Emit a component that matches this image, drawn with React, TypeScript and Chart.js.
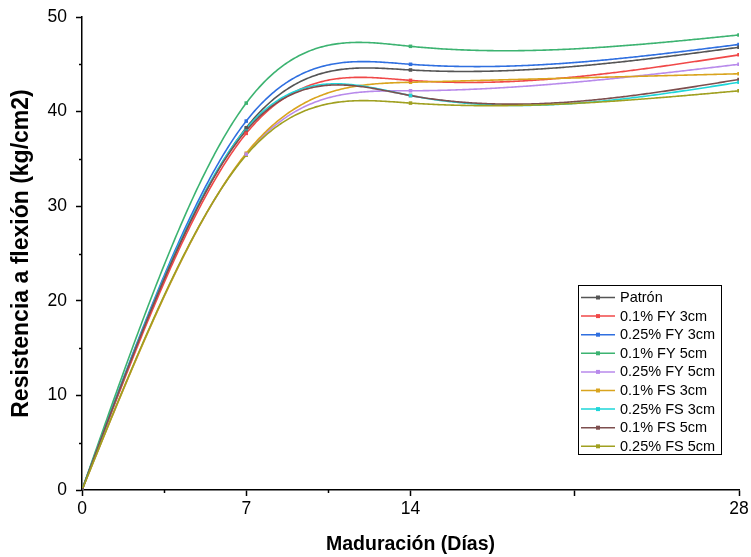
import { useEffect, useRef } from 'react';
import { Chart, registerables } from 'chart.js';

Chart.register(...registerables);

const days = [0, 7, 14, 28];
const seriesNames = [
  'Patrón',
  '0.1% FY 3cm',
  '0.25% FY 3cm',
  '0.1% FY 5cm',
  '0.25% FY 5cm',
  '0.1% FS 3cm',
  '0.25% FS 3cm',
  '0.1% FS 5cm',
  '0.25% FS 5cm',
];
const patron = [0, 38.3, 44.4, 46.8];
const fy01_3 = [0, 37.7, 43.3, 46.0];
const fy025_3 = [0, 39.0, 45.0, 47.1];
const fy01_5 = [0, 40.9, 46.9, 48.1];
const fy025_5 = [0, 35.5, 42.2, 45.0];
const fs01_3 = [0, 35.6, 43.1, 44.0];
const fs025_3 = [0, 38.2, 41.7, 43.1];
const fs01_5 = [0, 38.0, 41.7, 43.4];
const fs025_5 = [0, 35.4, 40.9, 42.2];
const seriesValues = [patron, fy01_3, fy025_3, fy01_5, fy025_5, fs01_3, fs025_3, fs01_5, fs025_5];
const seriesColors = [
  '#555555',
  '#F04848',
  '#2F6FE0',
  '#3CB371',
  '#B88AEB',
  '#D9A41E',
  '#1ED6D9',
  '#7D4E4E',
  '#A0A020',
];
const xTickValues = [0, 3.5, 7, 10.5, 14, 21, 28];
const xTickLabels = ['0', '', '7', '', '14', '', '28'];
const xMinorTicks = [3.5, 10.5];
const yMinorTicks = [5, 15, 25, 35, 45];
const xTitle = 'Maduración (Días)';
const yTitle = 'Resistencia a flexión (kg/cm2)';

const FONT = "'Liberation Sans', Arial, sans-serif";

function naturalSpline(xs: number[], ys: number[]) {
  const n = xs.length;
  const h: number[] = [];
  for (let i = 0; i < n - 1; i++) h.push(xs[i + 1] - xs[i]);
  const M = new Array(n).fill(0);
  const m = n - 2;
  if (m > 0) {
    const a: number[] = [], b: number[] = [], c: number[] = [], d: number[] = [];
    for (let i = 1; i <= m; i++) {
      a.push(h[i - 1]);
      b.push(2 * (h[i - 1] + h[i]));
      c.push(h[i]);
      d.push(6 * ((ys[i + 1] - ys[i]) / h[i] - (ys[i] - ys[i - 1]) / h[i - 1]));
    }
    for (let i = 1; i < m; i++) {
      const w = a[i] / b[i - 1];
      b[i] -= w * c[i - 1];
      d[i] -= w * d[i - 1];
    }
    const sol = new Array(m).fill(0);
    sol[m - 1] = d[m - 1] / b[m - 1];
    for (let i = m - 2; i >= 0; i--) sol[i] = (d[i] - c[i] * sol[i + 1]) / b[i];
    for (let i = 0; i < m; i++) M[i + 1] = sol[i];
  }
  return (x: number) => {
    let k = 0;
    while (k < n - 2 && x > xs[k + 1]) k++;
    const hk = h[k];
    const A = xs[k + 1] - x;
    const B = x - xs[k];
    return (
      (M[k] * A * A * A) / (6 * hk) +
      (M[k + 1] * B * B * B) / (6 * hk) +
      (ys[k] / hk - (M[k] * hk) / 6) * A +
      (ys[k + 1] / hk - (M[k + 1] * hk) / 6) * B
    );
  };
}

const splinePlugin = {
  id: 'splineLines',
  beforeDatasetsDraw(chart: any) {
    const { ctx, chartArea } = chart;
    const xs = chart.scales.x;
    const ys = chart.scales.y;
    ctx.save();
    ctx.beginPath();
    ctx.rect(chartArea.left, chartArea.top - 5, chartArea.right - chartArea.left + 5, chartArea.bottom - chartArea.top + 5);
    ctx.clip();
    chart.data.datasets.forEach((ds: any) => {
      const px = ds.data.map((p: any) => p.x);
      const py = ds.data.map((p: any) => p.y);
      const f = naturalSpline(px, py);
      ctx.beginPath();
      const x0 = px[0];
      const x1 = px[px.length - 1];
      const steps = 400;
      for (let i = 0; i <= steps; i++) {
        const xv = x0 + ((x1 - x0) * i) / steps;
        const X = xs.getPixelForValue(xv);
        const Y = ys.getPixelForValue(f(xv));
        if (i === 0) ctx.moveTo(X, Y);
        else ctx.lineTo(X, Y);
      }
      ctx.strokeStyle = ds.borderColor;
      ctx.lineWidth = 1.6;
      ctx.lineJoin = 'round';
      ctx.stroke();
    });
    ctx.restore();
  },
  afterDraw(chart: any) {
    const { ctx } = chart;
    const xs = chart.scales.x;
    const ys = chart.scales.y;
    ctx.save();
    ctx.strokeStyle = '#000';
    ctx.lineWidth = 1.5;
    xMinorTicks.forEach((v) => {
      const X = Math.round(xs.getPixelForValue(v)) + 0.5;
      ctx.beginPath();
      ctx.moveTo(X, xs.top);
      ctx.lineTo(X, xs.top + 3);
      ctx.stroke();
    });
    yMinorTicks.forEach((v) => {
      const Y = Math.round(ys.getPixelForValue(v)) + 0.5;
      ctx.beginPath();
      ctx.moveTo(ys.right, Y);
      ctx.lineTo(ys.right - 3, Y);
      ctx.stroke();
    });
    // legend
    const lx = 578.5;
    const ly = 285.5;
    const lw = 143;
    const lh = 169;
    ctx.fillStyle = '#fff';
    ctx.fillRect(lx, ly, lw, lh);
    ctx.strokeStyle = '#000';
    ctx.lineWidth = 1;
    ctx.strokeRect(lx, ly, lw, lh);
    ctx.font = `14.5px ${FONT}`;
    ctx.textBaseline = 'middle';
    ctx.textAlign = 'left';
    seriesNames.forEach((name, i) => {
      const y = 297.5 + i * 18.6;
      ctx.strokeStyle = seriesColors[i];
      ctx.lineWidth = 1.5;
      ctx.beginPath();
      ctx.moveTo(581, y);
      ctx.lineTo(615, y);
      ctx.stroke();
      ctx.fillStyle = seriesColors[i];
      ctx.fillRect(596, y - 2, 4, 4);
      ctx.fillStyle = '#000';
      ctx.fillText(name, 620, y + 0.5);
    });
    ctx.restore();
  },
};

export default function App() {
  const ref = useRef<HTMLCanvasElement | null>(null);
  useEffect(() => {
    if (!ref.current) return;
    const datasets = seriesNames.map((name, i) => ({
      label: name,
      data: days.map((d, j) => ({ x: d, y: seriesValues[i][j] })),
      borderColor: seriesColors[i],
      backgroundColor: seriesColors[i],
      showLine: false,
      pointStyle: 'rect' as const,
      pointRadius: 2.5,
      pointBorderWidth: 0,
    }));
    const chart = new Chart(ref.current, {
      type: 'scatter',
      data: { datasets },
      plugins: [splinePlugin],
      options: {
        animation: false,
        responsive: false,
        devicePixelRatio: 1,
        layout: { padding: { top: 17, right: 12, left: 0, bottom: 0 } },
        plugins: { legend: { display: false }, tooltip: { enabled: false } },
        scales: {
          x: {
            type: 'linear',
            min: 0,
            max: 28,
            afterBuildTicks: (scale: any) => {
              scale.ticks = xTickValues.map((v) => ({ value: v }));
            },
            afterFit: (scale: any) => {
              scale.height = 67;
              scale.paddingLeft = 0;
              scale.paddingRight = 0;
            },
            ticks: {
              autoSkip: false,
              maxRotation: 0,
              padding: 3,
              color: '#000',
              font: { family: FONT, size: 17.5 },
              callback: (_v: any, idx: number) => xTickLabels[idx] ?? '',
            },
            grid: {
              drawOnChartArea: false,
              drawTicks: true,
              tickLength: 6,
              tickWidth: 1.5,
              tickColor: (c: any) => (c.tick && xMinorTicks.includes(c.tick.value) ? 'rgba(0,0,0,0)' : '#000'),
            },
            border: { display: true, color: '#000', width: 1.5 },
            title: {
              display: true,
              text: xTitle,
              color: '#000',
              font: { family: FONT, size: 19.5, weight: 'bold' },
              padding: { top: 0, bottom: 1 },
            },
          },
          y: {
            type: 'linear',
            min: 0,
            max: 50,
            afterFit: (scale: any) => {
              scale.width = 82;
              scale.paddingTop = 0;
              scale.paddingBottom = 0;
            },
            ticks: {
              stepSize: 5,
              autoSkip: false,
              padding: 9,
              color: '#000',
              font: { family: FONT, size: 17.5 },
              callback: (v: any) => (Number(v) % 10 === 0 ? String(v) : ''),
            },
            grid: {
              drawOnChartArea: false,
              drawTicks: true,
              tickLength: 6,
              tickWidth: 1.5,
              tickColor: (c: any) => (c.tick && Number(c.tick.value) % 10 !== 0 ? 'rgba(0,0,0,0)' : '#000'),
            },
            border: { display: true, color: '#000', width: 1.5 },
            title: {
              display: true,
              text: yTitle,
              color: '#000',
              font: { family: FONT, size: 23, weight: 'bold' },
              padding: { top: 8, bottom: 0 },
            },
          },
        },
      },
    } as any);
    return () => chart.destroy();
  }, []);
  return (
    <div style={{ position: 'absolute', left: 0, top: 0, width: 751, height: 557, background: '#fff' }}>
      <canvas ref={ref} width={751} height={557} style={{ width: 751, height: 557, display: 'block' }} />
    </div>
  );
}
